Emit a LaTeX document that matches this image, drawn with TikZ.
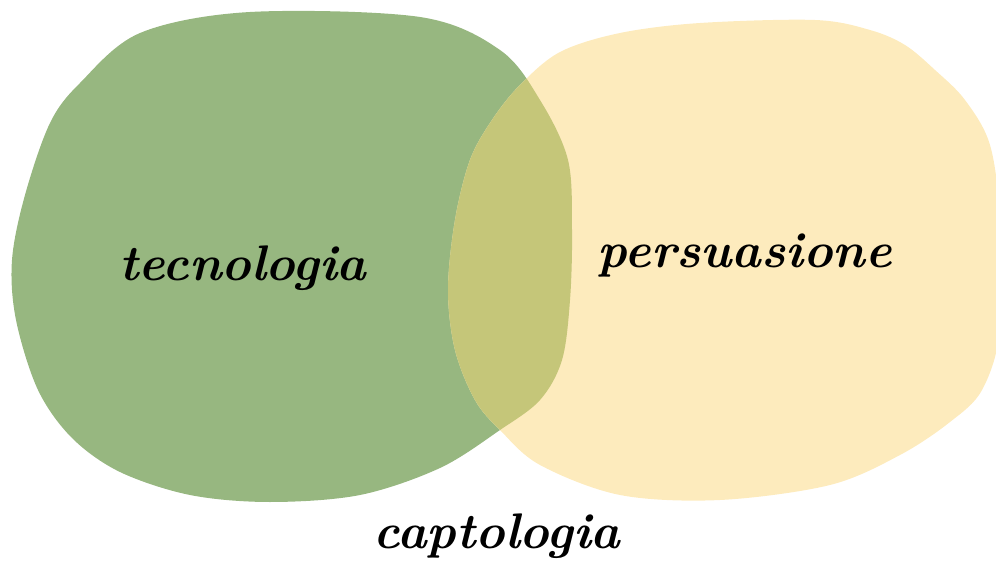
\documentclass[tikz,border=0pt]{standalone}
\usepackage{tikz}

\definecolor{tecgreen}{HTML}{97B780}
\definecolor{persyellow}{HTML}{FDEBBD}
\definecolor{captolive}{HTML}{C5C679}

\tikzset{
	word/.style={font=\fontsize{50}{56}\selectfont\bfseries\itshape, inner sep=0pt}
}

\begin{document}
\begin{tikzpicture}[x=1pt,y=-1pt]
				\useasboundingbox (0,0) rectangle (996,572);
				
				% blob tecnologia
				\def\greenblob{plot[smooth cycle, tension=0.55] coordinates {(250,12) (420,17) (500,50) (540,100) (568,160) (572,230) (570,300) (562,360) (540,400) (500,430) (440,468) (360,495) (270,502) (190,495) (120,472) (72,438) (38,390) (16,320) (12,260) (25,195) (50,123) (80,83) (140,33)}}
				\fill[tecgreen] \greenblob;
				
				% blob persuasione
				\def\yellowblob{plot[smooth cycle, tension=0.55] coordinates {(520,85) (560,52) (620,33) (700,23) (815,20) (870,30) (905,45) (935,70) (965,100) (990,145) (1000,220) (1000,330) (982,390) (950,422) (900,455) (830,485) (720,500) (620,495) (540,465) (500,430) (475,400) (455,350) (448,290) (455,220) (470,160) (492,120)}}
				\fill[persyellow] \yellowblob;
				
				% overlap
				\begin{scope}
				\clip \greenblob;
				\fill[captolive] \yellowblob;
				\end{scope}
				
				% labels
				\node[word] at (243,268) (tecnologia){tecnologia};
				\node[word] at (745,256) (persuasione){persuasione};
				\node[word] at (497,536) (captologia){captologia};
			\end{tikzpicture}
\end{document}
